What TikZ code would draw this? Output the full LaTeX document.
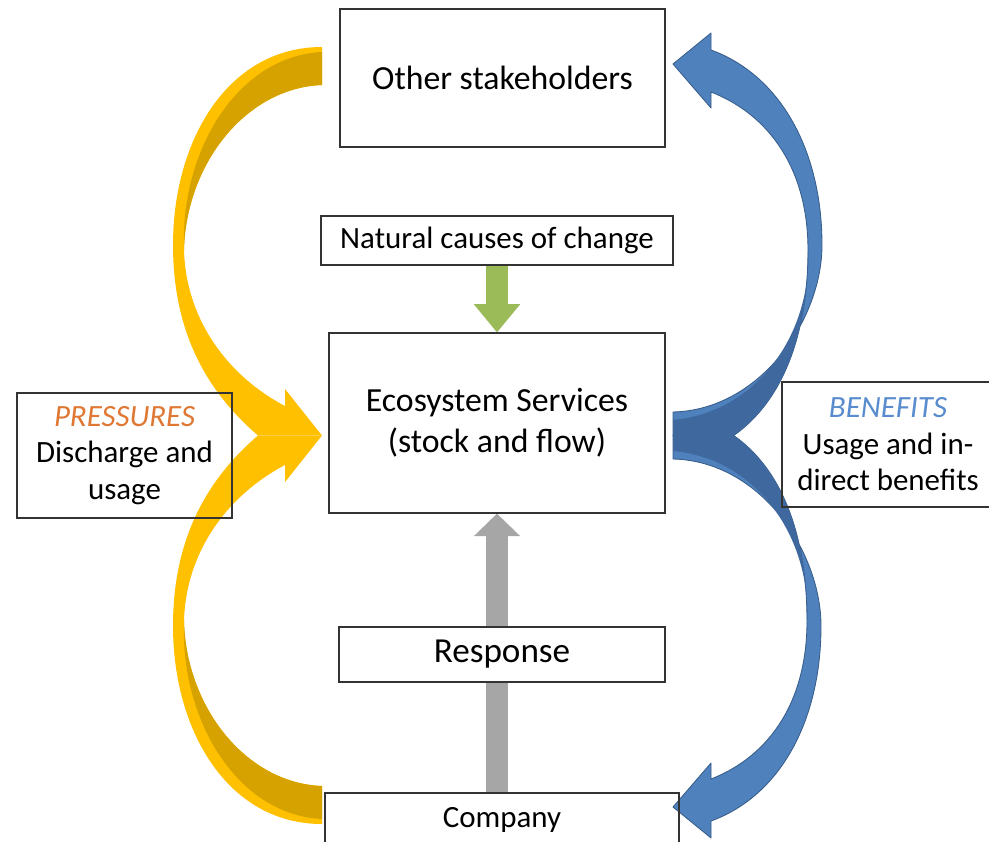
\documentclass[tikz,border=0pt]{standalone}
\usepackage{fontspec}
\setmainfont{Carlito}
\usetikzlibrary{arrows.meta}

\definecolor{pressgold}{RGB}{255,192,0}
\definecolor{pressgolddark}{RGB}{214,162,0}
\definecolor{benefitblue}{RGB}{79,129,189}
\definecolor{benefitbluedark}{RGB}{62,104,158}
\definecolor{benefitline}{RGB}{56,93,138}
\definecolor{naturalgreen}{RGB}{155,187,89}
\definecolor{responsegray}{RGB}{166,166,166}
\definecolor{pressorange}{RGB}{222,120,52}
\definecolor{benefittext}{RGB}{88,140,206}

\pgfdeclarelayer{background}
\pgfsetlayers{background,main}

\tikzset{
  box/.style={draw=black!80, line width=0.9pt, align=center, inner sep=0pt,
    font=\fontsize{22}{26}\selectfont},
  bigbox/.style={box, font=\fontsize{24}{29}\selectfont},
  pressband/.style={fill=pressgold},
  pressshade/.style={fill=pressgolddark},
  benefitband/.style={fill=benefitblue, draw=benefitline, line width=0.6pt, line join=round},
  benefitshade/.style={fill=benefitbluedark},
  greenflow/.style={draw=naturalgreen, line width=15pt,
    -{Triangle[width=33pt, length=20pt, line width=0pt]}},
  grayflow/.style={draw=responsegray, line width=16pt,
    -{Triangle[width=33pt, length=16pt, line width=0pt]}}
}

\begin{document}
\begin{tikzpicture}[x=0.025cm, y=-0.025cm]
    \useasboundingbox (0,0) rectangle (989,842);

    \node[bigbox, minimum width=8.125cm, minimum height=3.45cm] (others) at (502.5,78) {Other stakeholders};
    \node[box, minimum width=8.8cm, minimum height=1.225cm] (natural) at (497,240.5) {Natural causes of change};
    \node[bigbox, minimum width=8.4cm, minimum height=4.5cm] (eco) at (497,423) {Ecosystem Services\\(stock and flow)};
    \node[box, minimum width=5.375cm, minimum height=3.125cm] (pressures) at (124.5,455.5)
        {\textcolor{pressorange}{\itshape PRESSURES}\\Discharge and\\usage};
    \node[box, minimum width=5.3cm, minimum height=3.125cm] (benefits) at (888,444.5)
        {\textcolor{benefittext}{\itshape BENEFITS}\\Usage and in-\\direct benefits};
    \node[box, fill=white, minimum width=8.15cm, minimum height=1.375cm,
        font=\fontsize{25}{30}\selectfont] (response) at (502,654.5) {Response};
    \node[box, minimum width=8.85cm, minimum height=1.35cm] (company) at (502,820) {Company};

    \begin{pgfonlayer}{background}
    % pressures: stakeholders and company -> ecosystem
    \fill[pressband] (322,47) .. controls (228,47) and (173,140) .. (173,245)
        .. controls (173,330) and (205,390) .. (258,435.5) -- (322,435.5) -- (285,389) -- (285,406)
        .. controls (228,376) and (186,320) .. (184,250) .. controls (186,165) and (245,88) .. (322,85) -- cycle;
    \fill[pressband] (322,824) .. controls (228,824) and (173,731) .. (173,626)
        .. controls (173,541) and (205,481) .. (258,435.5) -- (322,435.5) -- (285,482) -- (285,465)
        .. controls (228,495) and (186,551) .. (184,621) .. controls (186,706) and (245,783) .. (322,786) -- cycle;
    \fill[pressshade] (322,52) .. controls (238,56) and (180,150) .. (184,250)
        .. controls (186,165) and (245,88) .. (322,85) -- cycle;
    \fill[pressshade] (322,819) .. controls (238,815) and (180,721) .. (184,621)
        .. controls (186,706) and (245,783) .. (322,786) -- cycle;

    % benefits: ecosystem -> stakeholders and company
    \filldraw[benefitband] (711,50) .. controls (780,75) and (822,150) .. (822,245)
        .. controls (822,320) and (760,410) .. (673,412) -- (673,436) -- (733,436)
        .. controls (785,400) and (808,330) .. (808,250) .. controls (808,170) and (770,115) .. (711,92)
        -- (711,108) -- (673,64) -- (711,33) -- cycle;
    \filldraw[benefitband] (711,821) .. controls (780,796) and (821,721) .. (821,626)
        .. controls (821,551) and (760,461) .. (673,459) -- (673,435) -- (733,435)
        .. controls (785,471) and (807,541) .. (807,621) .. controls (807,701) and (770,756) .. (711,779)
        -- (711,763) -- (673,807) -- (711,838) -- cycle;
    \fill[benefitshade] (673,420) .. controls (760,412) and (812,330) .. (808,250)
        .. controls (808,330) and (785,400) .. (733,436) -- (673,436) -- cycle;
    \fill[benefitshade] (673,451) .. controls (760,459) and (811,541) .. (807,621)
        .. controls (807,541) and (785,471) .. (733,435) -- (673,435) -- cycle;

    \draw[greenflow] (eco.north |- natural.south) -- (eco.north);
    \draw[grayflow] (eco.south |- company.north) -- (eco.south);
    \end{pgfonlayer}
\end{tikzpicture}
\end{document}
